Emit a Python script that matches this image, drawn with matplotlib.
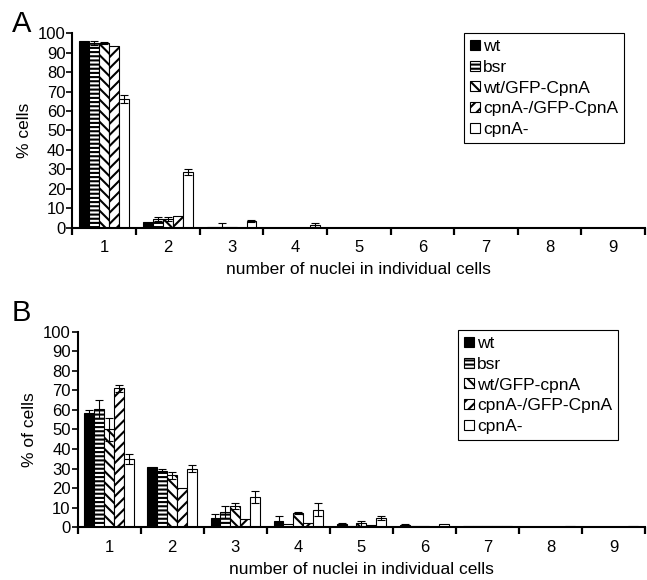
import numpy as np
import matplotlib.pyplot as plt

plt.rcParams['font.family'] = ['Liberation Sans', 'DejaVu Sans']
plt.rcParams['hatch.linewidth'] = 1.5

groups = [1, 2, 3, 4, 5, 6, 7, 8, 9]

# panel A values (% cells) and error bars
labels_a = ["wt", "bsr", "wt/GFP-CpnA", "cpnA-/GFP-CpnA", "cpnA-"]
a_wt = [96, 3, 0.5, 0, 0, 0, 0, 0, 0]
a_bsr = [95, 4.5, 0.5, 0, 0, 0, 0, 0, 0]
a_wtgfp = [95, 4.5, 0.3, 0, 0, 0, 0, 0, 0]
a_cpngfp = [93.5, 6, 0, 0, 0, 0, 0, 0, 0]
a_cpn = [66, 28.5, 3.5, 1.5, 0, 0, 0, 0, 0]
a_wt_err = [0, 0, 0, 0, 0, 0, 0, 0, 0]
a_bsr_err = [1, 1, 2, 0, 0, 0, 0, 0, 0]
a_wtgfp_err = [0.5, 1, 0, 0, 0, 0, 0, 0, 0]
a_cpngfp_err = [0, 0, 0, 0, 0, 0, 0, 0, 0]
a_cpn_err = [2, 1.5, 0.5, 0.8, 0, 0, 0, 0, 0]

# panel B values (% of cells) and error bars
labels_b = ["wt", "bsr", "wt/GFP-cpnA", "cpnA-/GFP-CpnA", "cpnA-"]
b_wt = [58.5, 31, 4.6, 3.4, 1.4, 1, 0.5, 0, 0]
b_bsr = [60.5, 29, 7.7, 1.7, 0.5, 0.5, 0.5, 0, 0]
b_wtgfp = [50, 26.5, 11, 7.3, 2, 0.5, 0.5, 0, 0]
b_cpngfp = [71, 20, 4.3, 2.2, 1, 0, 0.5, 0, 0]
b_cpn = [35, 30, 15.5, 9, 4.6, 1.7, 0.5, 0.7, 0.7]
b_wt_err = [1.5, 0, 2, 2.2, 0.6, 0.5, 0, 0, 0]
b_bsr_err = [4.5, 1, 3, 0, 0, 0, 0, 0, 0]
b_wtgfp_err = [6, 2, 1.5, 0.5, 1.4, 0, 0, 0, 0]
b_cpngfp_err = [2, 0, 0, 0, 0, 0, 0, 0, 0]
b_cpn_err = [2.5, 2, 3, 3.5, 1, 0, 0, 0, 0]

hatches = [None, '----', '\\\\\\', '///', None]
colors = ['black', 'white', 'white', 'white', 'white']


def draw_panel(ax, series, errors, labels, ylabel, legend_pos):
    x = np.arange(len(groups)) + 1
    w = 0.157
    for i, (vals, errs) in enumerate(zip(series, errors)):
        xs = x + (i - 2) * w
        ax.bar(xs, vals, width=w, color=colors[i], edgecolor='black',
               hatch=hatches[i], linewidth=0.8, label=labels[i])
        errs = np.array(errs)
        m = errs > 0
        if m.any():
            ax.errorbar(xs[m], np.array(vals)[m], yerr=errs[m], fmt='none',
                        ecolor='black', elinewidth=0.8, capsize=3, capthick=0.8)
    ax.set_xlim(0.5, 9.5)
    ax.set_ylim(0, 100)
    ax.set_yticks(range(0, 101, 10))
    ax.set_xticks(x)
    ax.set_xticklabels([str(g) for g in groups])
    ax.set_xticks(np.arange(0.5, 10, 1), minor=True)
    ax.tick_params(axis='x', which='major', length=0, pad=9, labelsize=12)
    ax.tick_params(axis='x', which='minor', length=5, width=1.6, direction='out')
    ax.tick_params(axis='y', length=4, width=1.2, labelsize=12, pad=1)
    ax.spines['top'].set_visible(False)
    ax.spines['right'].set_visible(False)
    ax.spines['left'].set_linewidth(1.5)
    ax.spines['bottom'].set_linewidth(1.5)
    ax.set_ylabel(ylabel, fontsize=12.5, labelpad=4)
    ax.set_xlabel("number of nuclei in individual cells", fontsize=12.5,
                  labelpad=5)
    leg = ax.legend(loc='upper left', bbox_to_anchor=legend_pos,
                    bbox_transform=fig.transFigure, fontsize=12.5,
                    handlelength=0.55, handleheight=0.5, handletextpad=0.2,
                    labelspacing=0.33, borderpad=0.35, borderaxespad=0,
                    fancybox=False, framealpha=1, edgecolor='black')
    leg.get_frame().set_linewidth(0.8)


fig = plt.figure(figsize=(6.47, 5.8), dpi=100)
ax_a = fig.add_axes([0.112, 0.607, 0.885, 0.336])
ax_b = fig.add_axes([0.12, 0.091, 0.877, 0.337])

draw_panel(ax_a, [a_wt, a_bsr, a_wtgfp, a_cpngfp, a_cpn],
           [a_wt_err, a_bsr_err, a_wtgfp_err, a_cpngfp_err, a_cpn_err],
           labels_a, "% cells", (464 / 647, 1 - 33 / 580))
draw_panel(ax_b, [b_wt, b_bsr, b_wtgfp, b_cpngfp, b_cpn],
           [b_wt_err, b_bsr_err, b_wtgfp_err, b_cpngfp_err, b_cpn_err],
           labels_b, "% of cells", (458 / 647, 1 - 330 / 580))

fig.text(12 / 647, 1 - 24 / 580, "A", fontsize=21, ha='left', va='center')
fig.text(12 / 647, 1 - 313 / 580, "B", fontsize=21, ha='left', va='center')

fig.savefig("out.png", dpi=100)
